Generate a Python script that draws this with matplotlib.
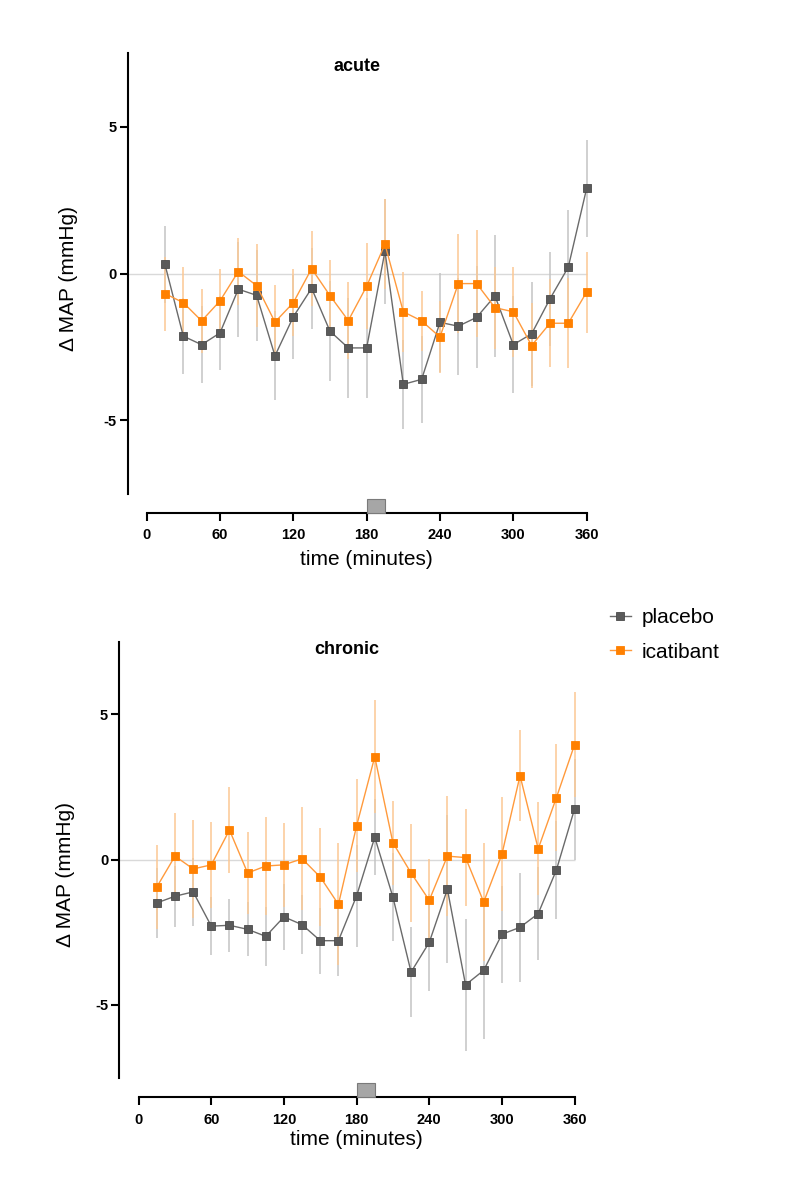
import matplotlib
matplotlib.use("Agg")
import matplotlib.pyplot as plt
from matplotlib.patches import Rectangle

plt.rcParams['font.family'] = ['Liberation Sans', 'DejaVu Sans']

# sampling times (minutes)
times = [15, 30, 45, 60, 75, 90, 105, 120, 135, 150, 165, 180,
         195, 210, 225, 240, 255, 270, 285, 300, 315, 330, 345, 360]

# acute study: mean change in MAP and SEM
placebo_acute = [0.31, -2.13, -2.42, -2.02, -0.53, -0.74, -2.80, -1.47, -0.50, -1.96, -2.53, -2.53,
                 0.76, -3.77, -3.60, -1.66, -1.79, -1.49, -0.76, -2.42, -2.05, -0.86, 0.22, 2.90]
placebo_acute_sem = [1.31, 1.30, 1.32, 1.25, 1.62, 1.55, 1.52, 1.43, 1.38, 1.70, 1.69, 1.71,
                     1.79, 1.51, 1.48, 1.68, 1.65, 1.74, 2.08, 1.66, 1.76, 1.59, 1.96, 1.64]
icatibant_acute = [-0.68, -0.99, -1.61, -0.93, 0.07, -0.41, -1.65, -0.99, 0.17, -0.75, -1.60, -0.43,
                   1.00, -1.30, -1.61, -2.16, -0.34, -0.34, -1.16, -1.30, -2.45, -1.69, -1.69, -0.63]
icatibant_acute_sem = [1.26, 1.22, 1.09, 1.09, 1.14, 1.42, 1.25, 1.14, 1.27, 1.22, 1.30, 1.47,
                       1.54, 1.37, 1.03, 1.22, 1.69, 1.81, 1.40, 1.54, 1.45, 1.49, 1.53, 1.38]

# chronic study
placebo_chronic = [-1.49, -1.26, -1.11, -2.29, -2.26, -2.40, -2.64, -1.97, -2.24, -2.79, -2.79, -1.25,
                   0.77, -1.29, -3.87, -2.85, -1.02, -4.31, -3.81, -2.57, -2.33, -1.86, -0.36, 1.74]
placebo_chronic_sem = [1.20, 1.05, 1.17, 1.00, 0.92, 0.93, 1.02, 1.13, 1.01, 1.14, 1.21, 1.77,
                       1.31, 1.52, 1.55, 1.66, 2.54, 2.27, 2.38, 1.66, 1.88, 1.61, 1.69, 1.74]
icatibant_chronic = [-0.94, 0.12, -0.32, -0.18, 1.02, -0.46, -0.22, -0.18, 0.03, -0.60, -1.54, 1.16,
                     3.54, 0.58, -0.46, -1.40, 0.12, 0.07, -1.46, 0.18, 2.89, 0.37, 2.13, 3.95]
icatibant_chronic_sem = [1.44, 1.49, 1.69, 1.49, 1.48, 1.40, 1.70, 1.44, 1.77, 1.69, 2.10, 1.60,
                         1.94, 1.45, 1.68, 1.43, 2.07, 1.68, 2.04, 1.96, 1.57, 1.60, 1.85, 1.81]

infusion = (180, 195)
xticks = [0, 60, 120, 180, 240, 300, 360]
yticks = [-5, 0, 5]

W, H = 801, 1200
GRAY = '#5a5a5a'
ORANGE = '#ff8000'


def panel(rect, xmin, ymin, title, plc, plc_sem, ica, ica_sem, lab_x, lab_y, title_pos):
    ax = fig.add_axes(rect)
    ax.set_xlim(xmin, 368)
    ax.set_ylim(ymin, 7.5)

    ax.hlines(0, xmin, times[-1], color='#d9d9d9', lw=1, zorder=1)

    ax.errorbar(times, plc, yerr=plc_sem, fmt='none', ecolor='#c4c4c4', elinewidth=1.1, zorder=2)
    ax.errorbar(times, ica, yerr=ica_sem, fmt='none', ecolor='#fcc893', elinewidth=1.1, zorder=2)
    l1, = ax.plot(times, plc, color='#6a6a6a', lw=1, marker='s', ms=5.8,
                  mfc=GRAY, mec='#4a4a4a', mew=0.6, zorder=4, label='placebo', clip_on=False)
    l2, = ax.plot(times, ica, color='#ff9a3c', lw=1, marker='s', ms=5.8,
                  mfc=ORANGE, mec=ORANGE, mew=0.6, zorder=5, label='icatibant', clip_on=False)

    # infusion period box on the time axis
    ax.add_patch(Rectangle((infusion[0], ymin), infusion[1] - infusion[0], 0.48,
                           facecolor='#a6a6a6', edgecolor='#7a7a7a', lw=0.8, clip_on=False, zorder=3))

    for s in ['top', 'right']:
        ax.spines[s].set_visible(False)
    ax.spines['left'].set_bounds(-7.5, 7.5)
    ax.spines['bottom'].set_bounds(0, 360)
    ax.spines['left'].set_linewidth(1.5)
    ax.spines['bottom'].set_linewidth(1.5)

    ax.set_xticks(xticks)
    ax.set_yticks(yticks)
    ax.set_xticklabels([str(t) for t in xticks], fontweight='bold', fontsize=10.5)
    ax.set_yticklabels([str(t) for t in yticks], fontweight='bold', fontsize=10.5)
    ax.tick_params(axis='both', width=1.5, length=6)
    ax.tick_params(axis='x', pad=5)
    ax.tick_params(axis='y', pad=2)

    ax.set_xlabel('time (minutes)', fontsize=15)
    ax.set_ylabel('Δ MAP (mmHg)', fontsize=15)
    ax.xaxis.set_label_coords(lab_x[0], lab_x[1])
    ax.yaxis.set_label_coords(lab_y[0], lab_y[1])

    ax.text(title_pos[0], title_pos[1], title, transform=ax.transAxes, ha='center', va='center',
            fontsize=13, fontweight='bold')
    return ax, l1, l2


fig = plt.figure(figsize=(W / 100, H / 100), dpi=100)

# top panel (acute)
top_rect = [127.7 / W, 1 - 513 / H, 468.7 / W, 459.7 / H]
ax1, h1, h2 = panel(top_rect, -15.5, -8.15, 'acute',
                    placebo_acute, placebo_acute_sem, icatibant_acute, icatibant_acute_sem,
                    ((366.7 - 127.7) / 468.7, -0.080), (-0.106, 0.511), (0.489, 0.972))

# bottom panel (chronic)
bot_rect = [119.3 / W, 1 - 1097.3 / H, 464.9 / W, 455.6 / H]
ax2, _, _ = panel(bot_rect, -16, -8.18, 'chronic',
                  placebo_chronic, placebo_chronic_sem, icatibant_chronic, icatibant_chronic_sem,
                  ((356.4 - 119.3) / 464.9, -0.071), (-0.095, 0.488), (0.489, 0.982))

fig.legend([h1, h2], ['placebo', 'icatibant'], loc='upper left',
           bbox_to_anchor=(610 / W, 1 - 608 / H), frameon=False, fontsize=15,
           handlelength=1.0, handletextpad=0.5, borderpad=0, borderaxespad=0,
           labelspacing=0.75, markerscale=0.9)

fig.savefig('out.png', dpi=100)
